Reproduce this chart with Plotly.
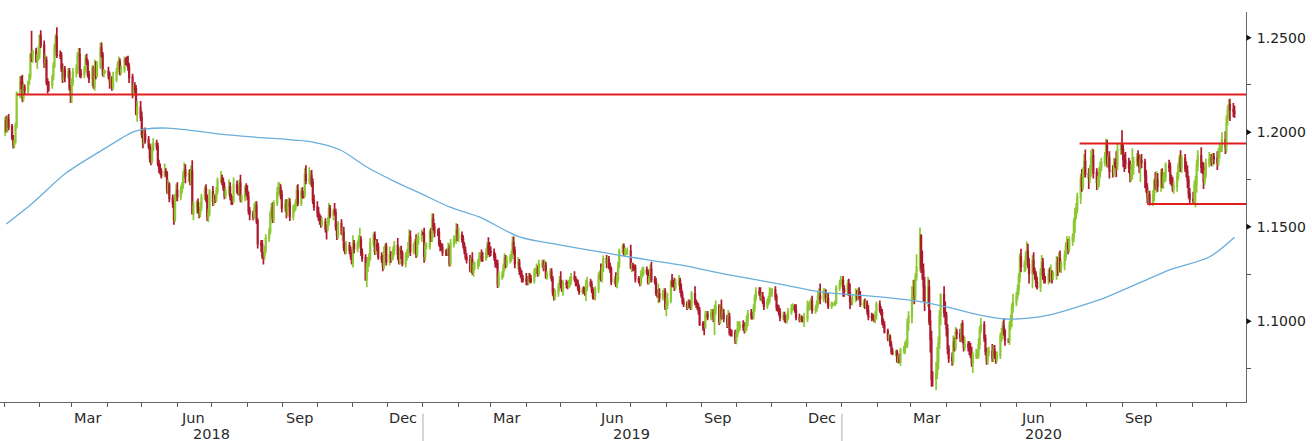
import pandas as pd
import plotly.graph_objects as go

# ---------------- data (prices in pips, 1 pip = 0.0001) ----------------
OPEN_FIRST = 12005

CLOSE_2018 = [
    12060,12015,12067,12030, 11967,11937,11950,12032,12200, 12263,12262,12180,12238,12222, 12262,12298,12408,12396,12427, 12380,12405,12414,
    12510,12460, 12370,12380,12265,12250,12250, 12290,12350,12450,12505,12408, 12405,12338,12285,12330,12295, 12320,12235,12195,
    12265,12315, 12335,12405,12410,12310,12305, 12335,12390,12370,12305,12285, 12335,12240,12340,12300,12350, 12445,12410,12310,12320,12322,
    12300,12270,12275,12235,12280, 12320,12355,12370,12320,12330, 12380,12375,12370,12345,12290, 12210,12235,12230,12100,12130, 12080,
    11990,11950,11990,11960, 11925,11865,11850,11915,11940, 11925,11835,11810,11795,11770, 11790,11780,11695,11720,11650, 11625,11540,11665,11690,
    11660, 11695,11720,11775,11800,11770, 11780,11745,11795,11570,11610, 11625,11590,11570,11605,11655, 11700,11650,11555,11570,11685,
    11635,11655,11650,11690,11745, 11750,11740,11710,11665,11685, 11710,11660,11640,11640,11720, 11690,11685,11730,11645,11655, 11705,11690,
    11660,11585,11565, 11555,11600,11610,11530,11410, 11405,11345,11345,11375,11440, 11475,11570,11600,11540,11625, 11680,11700,11705,11670,11600,
    11620,11585,11625,11625,11555, 11595,11600,11625,11690,11625, 11685,11670,11670,11775,11745, 11750,11770,11735,11640,11605,
    11575,11545,11535,11515,11525, 11490,11490,11525,11595,11560, 11580,11575,11500,11455,11515, 11465,11470,11390,11375,11400, 11375,11345,11310,
    11410,11385, 11405,11430,11430,11365,11335, 11220,11290,11310,11330,11415, 11455,11370,11405,11395,11340, 11330,11290,11370,11395,11315,
    11350,11340,11345,11375,11400, 11355,11320,11370,11360,11305, 11345,11360,11380,11445,11370, 11405,11420,11355,11430,11440, 11465,
]
CLOSE_2019 = [
    11460,11345,11395,11395, 11470,11440,11540,11500,11470, 11470,11410,11395,11390,11365, 11365,11365,11385,11305,11410, 11430,11430,11480,11445,
    11455, 11435,11405,11375,11340,11325, 11275,11325,11260,11295,11295, 11310,11340,11340,11335,11335, 11360,11400,11370,11370,
    11365, 11340,11305,11305,11195,11235, 11245,11285,11330,11305,11325, 11335,11350,11415,11375,11305, 11310,11265,11250,11225,11220,
    11215,11205,11235,11225,11215, 11260,11265,11275,11255,11300, 11305,11285,11295,11235,11245, 11260,11225,11155,11130,11150, 11180,11215,
    11195,11170,11200, 11195,11190,11195,11215,11235, 11225,11205,11200,11175,11155, 11165,11160,11150,11180,11205, 11195,11165,11130,11130,11170,
    11240,11250,11225,11275,11330, 11310,11325,11290,11275,11210, 11220,11195,11225,11295,11370, 11395,11365,11370,11370,11370,
    11285,11290,11285,11285,11225, 11215,11205,11250,11255,11270, 11260,11210,11225,11275,11220, 11210,11150,11140,11145,11125, 11145,11155,11075,
    11085,11110, 11205,11200,11200,11180,11200, 11215,11170,11140,11105,11090, 11080,11095,11085,11080,11145, 11100,11090,11075,11055,10985,
    10970,10970,11035,11035,11025, 11045,11045,11010,11060,11075, 11000,11070,11030,11040,11015, 10990,11020,10940,10940,10940, 10900,
    10930,10960,10970,10980, 10970,10955,10970,11005,11040, 11030,11030,11070,11125,11155, 11150,11125,11130,11105,11080, 11100,11115,11150,11150,
    11165, 11130,11075,11065,11050,11020, 11030,11010,11005,11020,11050, 11070,11075,11075,11060,11020, 11010,11015,11010,11010,11015,
    11080,11080,11080,11105,11060, 11065,11090,11130,11130,11120, 11145,11150,11110,11120,11080, 11090,11090,11090,11100,11175, 11200,11215,
]
CLOSE_2020 = [
    11215,11170,11160, 11195,11150,11105,11105,11120, 11135,11130,11150,11135,11090, 11095,11085,11090,11055,11025, 11020,11020,11010,11030,11090,
    11060,11045,11000,10980,10945, 10910,10915,10875,10840,10830, 10835,10790,10805,10785,10845, 10850,10880,10880,10995,11025,
    11135,11175,11135,11235,11285, 11450,11285,11270,11185,11105, 11180,11000,10905,10695,10695, 10725,10785,10885,11030,11140, 11045,11030,
    10960,10855,10805, 10795,10890,10865,10940,10935, 10915,10985,10905,10865,10875, 10865,10855,10825,10780,10820, 10825,10825,10875,10955,
    10980, 10910,10840,10795,10835,10840, 10805,10850,10815,10805,10820, 10920,10925,10975,10945,10900, 10900,10980,11005,11075,11100,
    11135,11170,11235,11340,11290, 11295,11340,11370,11300,11255, 11320,11265,11245,11205,11180, 11260,11310,11250,11220,11220, 11245,11235,
    11250,11240,11245, 11310,11275,11330,11285,11300, 11345,11400,11410,11385,11430, 11445,11525,11570,11595,11655, 11755,11715,11790,11845,11780,
    11760,11800,11865,11875,11785, 11735,11740,11785,11815,11840, 11870,11930,11835,11860,11795, 11790,11835,11830,11820,11905, 11935,
    11910,11855,11850,11835, 11815,11780,11800,11815,11845, 11865,11845,11815,11850,11840, 11770,11705,11660,11670,11630, 11665,11740,11720,
    11745,11715, 11785,11735,11760,11765,11825, 11815,11745,11745,11705,11715, 11765,11820,11860,11815,11860, 11810,11795,11745,11675,11645,
    11640,11715,11720,11825,11875, 11815,11810,11740,11775,11835, 11855,11860,11850,11870,11860, 11840,11895,11915,11915,11960, 11925,
    12070,12115,12145,12120,12110,12100,
]

# upper / lower wick lengths in pips (beyond the candle body)
WICK_UP_2018 = [
    21,27,22,29, 13,18,15,20,15, 33,34,42,16,15, 10,14,12,129,10, 20,10,44,
    8,30, 25,35,20,20,20, 15,20,20,15,50, 25,20,25,15,20, 20,20,15,
    20,25, 25,20,35,35,25, 15,20,25,15,20, 20,15,45,35,25, 30,30,15,15,5,
    25,20,25,20,40, 20,20,30,20,20, 20,15,25,35,20, 20,25,30,20,35, 35,
    30,30,30,35, 20,15,20,25,30, 20,20,20,25,15, 45,20,15,30,15, 20,15,10,35,
    45, 20,15,20,40,30, 20,25,30,57,25, 15,25,15,25,20, 15,25,20,25,15,
    30,20,15,20,15, 45,25,20,25,20, 40,25,15,20,40, 25,25,20,45,20, 15,25,
    30,25,20, 20,25,25,25,15, 20,25,20,25,20, 20,15,25,30,15, 30,35,30,20,25,
    25,25,20,30,25, 20,20,20,30,35, 20,25,20,35,50, 65,25,30,20,30,
    30,30,25,25,25, 20,20,25,30,20, 15,45,20,20,15, 25,25,30,25,25, 20,20,20,
    45,20, 20,25,65,20,20, 20,20,30,30,25, 15,20,25,30,20, 25,20,25,15,20,
    45,20,20,20,25, 40,30,25,30,15, 20,20,40,40,35, 10,15,40,20,30, 20,
]
WICK_DN_2018 = [
    25,15,18,20, 10,23,20,10,12, 20,35,22,18,22, 18,12,20,25,28, 12,45,25,
    25,15, 30,30,15,45,35, 20,15,10,30,15, 18,20,25,15,30, 12,15,40,
    40,20, 25,25,15,20,20, 20,20,15,15,25, 40,10,20,20,10, 15,15,15,20,10,
    20,40,30,15,10, 15,15,20,20,15, 15,20,20,20,30, 30,20,20,10,45, 20,
    20,35,15,20, 15,25,25,15,15, 20,15,25,20,15, 10,15,20,25,20, 25,30,15,30,
    25, 20,20,20,20,40, 35,25,25,5,35, 40,20,25,20,20, 15,20,25,30,15,
    25,20,25,20,20, 15,20,20,20,15, 20,20,25,25,15, 15,20,20,15,20, 20,25,
    20,20,30, 20,15,20,15,25, 40,15,44,20,15, 20,15,20,20,20, 15,20,25,25,25,
    20,40,30,20,25, 20,20,15,20,15, 15,20,20,15,20, 20,30,25,20,20,
    25,15,25,20,15, 20,58,15,20,15, 25,15,20,25,20, 10,40,20,20,20, 20,20,10,
    25,25, 20,20,30,20,20, 5,40,30,20,10, 20,20,20,25,15, 20,25,15,20,20,
    20,30,20,20,25, 30,20,20,30,15, 20,25,25,20,25, 15,20,20,15,25, 20,
]
WICK_UP_2019 = [
    10,35,20,20, 15,25,30,30,20, 20,25,20,20,20, 15,20,30,20,25, 25,20,40,35,
    40, 20,20,15,20,20, 25,15,40,20,20, 20,25,25,40,30, 25,20,45,50,
    25, 20,20,20,20,30, 20,20,30,20,20, 20,25,33,33,20, 30,20,20,20,20,
    35,25,20,20,20, 20,20,30,20,25, 20,20,30,20,20, 20,20,15,20,20, 20,25,
    50,20,20, 20,15,25,20,20, 30,15,20,20,20, 15,20,20,40,30, 20,20,15,20,15,
    20,20,55,15,18, 20,20,20,20,15, 20,40,20,20,15, 17,17,20,10,20,
    35,20,20,15,15, 15,15,20,30,20, 20,15,15,25,40, 20,20,20,55,30, 20,20,20,
    40,40, 15,45,20,30,25, 30,15,30,20,20, 15,20,20,25,15, 40,15,15,20,20,
    15,30,20,20,20, 20,20,20,27,35, 15,20,45,30,25, 20,40,25,20,15, 15,
    20,40,30,20, 25,25,20,25,20, 25,20,20,15,25, 25,30,20,25,25, 20,20,30,25,
    10, 20,15,15,20,20, 20,20,20,20,20, 20,20,15,15,30, 20,15,15,15,30,
    30,20,30,20,30, 20,20,25,45,70, 30,25,20,25,30, 15,10,5,10,15, 20,24,
]
WICK_DN_2019 = [
    5,35,25,15, 15,20,20,20,25, 20,15,25,15,20, 20,20,20,15,15, 20,15,20,20,
    25, 20,20,20,15,20, 15,20,15,25,25, 20,20,20,20,20, 15,25,20,30,
    20, 20,20,25,19,15, 15,15,20,25,20, 20,20,20,20,25, 30,20,20,20,15,
    25,15,15,20,15, 15,25,15,20,15, 20,20,15,10,15, 20,15,20,20,19, 20,20,
    20,15,35, 20,20,15,15,20, 15,20,15,15,15, 15,15,15,43,20, 15,15,15,15,20,
    20,20,15,20,15, 30,20,15,20,20, 15,14,20,20,15, 15,20,25,20,20,
    10,25,20,15,20, 15,20,15,20,15, 15,15,15,20,15, 15,15,15,45,25, 15,15,15,
    48,20, 15,20,20,20,15, 15,20,15,15,15, 20,15,15,20,20, 15,20,15,20,10,
    20,44,10,20,20, 20,20,15,83,25, 20,15,20,20,20, 25,20,15,20,20, 20,
    21,15,20,20, 20,20,15,20,30, 20,20,20,20,20, 15,15,20,15,20, 15,15,20,20,
    20, 20,20,15,20,20, 15,15,16,16,15, 15,15,15,15,15, 15,15,15,15,40,
    20,25,20,20,20, 20,15,20,25,30, 20,20,15,15,15, 15,10,5,10,10, 15,20,
]
WICK_UP_2020 = [
    10,25,20, 25,30,50,20,20, 40,30,25,30,25, 20,25,20,20,30, 20,20,15,25,15,
    20,20,20,15,20, 15,20,15,20,20, 15,15,15,25,15, 20,15,25,20,28,
    50,45,45,20,70, 46,10,90,35,50, 56,40,60,45,40, 60,80,35,30,7, 45,60,
    20,25,20, 30,35,25,30,20, 25,5,20,20,40, 20,30,30,40,20, 30,25,35,20,
    38, 20,20,20,25,25, 40,25,25,25,20, 20,40,25,40,15, 10,20,30,20,45,
    20,25,20,20,44, 25,30,52,40,35, 30,45,20,20,30, 20,40,25,30,20, 30,40,
    50,20,20, 35,30,35,45,20, 30,20,40,25,20, 20,20,30,30,25, 25,50,25,40,64,
    30,25,40,40,35, 25,30,30,30,25, 25,36,30,20,40, 30,30,25,70,40, 10,
    76,25,30,45, 30,35,30,100,25, 25,40,37,25,35, 20,30,25,25,20, 30,15,50,
    50,40, 20,25,30,25,15, 30,25,30,20,25, 25,20,20,45,20, 25,35,30,25,30,
    40,30,50,30,30, 45,30,30,25,25, 40,25,25,20,20, 40,20,25,15,40, 45,
    20,25,30,32,35,30,
]
WICK_DN_2020 = [
    15,40,30, 25,15,40,20,20, 20,20,20,20,15, 20,20,20,20,20, 20,15,15,20,20,
    15,15,20,15,10, 15,15,10,15,10, 15,10,15,7,20, 15,25,20,20,45,
    35,30,45,25,20, 20,30,50,80,50, 30,20,70,41,40, 59,30,40,30,50, 25,50,
    40,30,25, 30,25,25,20,30, 25,20,20,25,20, 25,35,20,20,53, 20,25,20,25,
    20, 20,20,25,25,20, 20,20,15,30,20, 20,30,20,20,30, 15,25,25,35,30,
    20,20,30,30,30, 30,30,20,20,55, 80,15,25,25,12, 25,20,30,20,20, 25,30,
    30,40,20, 25,35,20,25,30, 30,25,15,30,20, 30,25,60,30,25, 35,30,20,30,20,
    60,30,35,30,30, 40,35,30,25,20, 20,20,20,25,40, 30,25,20,58,20, 25,
    25,40,60,30, 30,45,40,50,40, 25,25,30,78,30, 65,25,35,30,18, 20,30,25,
    40,30, 30,30,35,25,25, 25,20,30,20,30, 30,20,30,25,30, 20,35,40,25,25,
    20,20,112,40,30, 30,30,40,20,20, 20,30,30,30,30, 40,20,35,20,20, 40,
    35,35,45,60,30,25,
]

# 200-day moving average
MA_DATES = ["2018-01-03", "2018-01-26", "2018-02-24", "2018-03-25", "2018-04-23", "2018-05-02",
            "2018-05-23", "2018-06-20", "2018-07-08", "2018-08-06", "2018-09-27", "2018-10-21",
            "2018-11-13", "2018-12-08", "2018-12-29", "2019-01-24", "2019-02-19", "2019-03-26",
            "2019-04-30", "2019-06-04", "2019-06-30", "2019-08-13", "2019-09-25", "2019-11-08",
            "2019-12-13", "2020-02-03", "2020-03-11", "2020-04-01", "2020-04-30", "2020-05-23",
            "2020-06-12", "2020-06-29", "2020-08-12", "2020-09-16", "2020-10-12", "2020-11-16",
            "2020-12-08"]
MA_VALUES = [1.1515, 1.1626, 1.1784, 1.1896, 1.2001, 1.2015,
             1.2022, 1.2005, 1.1990, 1.1975, 1.1948, 1.1906,
             1.1816, 1.1737, 1.1679, 1.1605, 1.1552, 1.1446,
             1.1404, 1.1367, 1.1340, 1.1298, 1.1245, 1.1197,
             1.1155, 1.1129, 1.1103, 1.1076, 1.1033, 1.1012,
             1.1017, 1.1033, 1.1113, 1.1203, 1.1271, 1.1340,
             1.1445]

# horizontal support / resistance levels
LEVELS = [1.2200, 1.1940, 1.1620]
LEVEL_START = ["2018-01-12", "2020-07-26", "2020-09-23"]

Y_TICKS = [1.10, 1.15, 1.20, 1.25]
Y_TICKTEXT = ["1.1000", "1.1500", "1.2000", "1.2500"]
Y_MINOR = [1.075, 1.125, 1.175, 1.225]
MONTH_LABELS = ["Mar", "Jun", "Sep", "Dec", "Mar", "Jun", "Sep", "Dec", "Mar", "Jun", "Sep"]
MONTH_LABEL_DATES = ["2018-03-15", "2018-06-15", "2018-09-15", "2018-12-15",
                     "2019-03-15", "2019-06-15", "2019-09-15", "2019-12-15",
                     "2020-03-15", "2020-06-15", "2020-09-15"]
YEAR_LABELS = ["2018", "2019", "2020"]
YEAR_LABEL_DATES = ["2018-07-01", "2019-07-02", "2020-06-25"]
YEAR_BOUNDARIES = ["2019-01-01", "2020-01-01"]

X_START = "2017-12-28 12:00"
X_END = "2020-12-18"

# ---------------- build OHLC ----------------
close_p = CLOSE_2018 + CLOSE_2019 + CLOSE_2020
wu = WICK_UP_2018 + WICK_UP_2019 + WICK_UP_2020
wd = WICK_DN_2018 + WICK_DN_2019 + WICK_DN_2020
n = min(len(close_p), len(wu), len(wd))
close_p, wu, wd = close_p[:n], wu[:n], wd[:n]
open_p = [OPEN_FIRST] + close_p[:-1]
high_p = [max(o, c) + u for o, c, u in zip(open_p, close_p, wu)]
low_p = [min(o, c) - d for o, c, d in zip(open_p, close_p, wd)]
dates = pd.bdate_range("2018-01-02", periods=n)

to_px = lambda arr: [v / 10000 for v in arr]

UP_COLOR = "#8cc832"
DN_COLOR = "#ad1a2e"
FONT = "DejaVu Sans, sans-serif"

fig = go.Figure()
fig.add_trace(go.Candlestick(
    x=dates, open=to_px(open_p), high=to_px(high_p), low=to_px(low_p), close=to_px(close_p),
    increasing=dict(line=dict(color=UP_COLOR, width=1.7), fillcolor=UP_COLOR),
    decreasing=dict(line=dict(color=DN_COLOR, width=1.7), fillcolor=DN_COLOR),
    whiskerwidth=0, hoverinfo="skip", showlegend=False,
))
fig.add_trace(go.Scatter(
    x=MA_DATES, y=MA_VALUES, mode="lines",
    line=dict(color="#6aaedb", width=1.3, shape="spline", smoothing=0.8),
    hoverinfo="skip", showlegend=False,
))

shapes = []
for lvl, start in zip(LEVELS, LEVEL_START):
    shapes.append(dict(type="line", xref="x", yref="y", x0=start, x1=X_END, y0=lvl, y1=lvl,
                       line=dict(color="#e01e1e", width=2), layer="above"))
# small black triangles marking the major y ticks
for t in Y_TICKS:
    shapes.append(dict(type="path", xref="paper", yref="y",
                       path=f"M 1.0004,{t + 0.0016} L 1.0045,{t} L 1.0004,{t - 0.0016} Z",
                       fillcolor="#111", line=dict(width=0), layer="above"))
for b in YEAR_BOUNDARIES:
    shapes.append(dict(type="line", xref="x", yref="paper", x0=b, x1=b, y0=-0.03, y1=-0.105,
                       line=dict(color="#aaaaaa", width=1)))

annotations = []
for lab, d in zip(MONTH_LABELS, MONTH_LABEL_DATES):
    annotations.append(dict(x=d, y=-0.041, xref="x", yref="paper", text=lab, showarrow=False,
                            font=dict(family=FONT, size=14.5, color="#2a2a2a"), yanchor="middle"))
for lab, d in zip(YEAR_LABELS, YEAR_LABEL_DATES):
    annotations.append(dict(x=d, y=-0.081, xref="x", yref="paper", text=lab, showarrow=False,
                            font=dict(family=FONT, size=14.5, color="#2a2a2a"), yanchor="middle"))

month_ticks = pd.date_range("2018-01-01", "2020-12-01", freq="MS")

fig.update_layout(
    width=1312, height=441,
    margin=dict(l=0, r=66, t=12, b=39),
    paper_bgcolor="white", plot_bgcolor="white",
    shapes=shapes, annotations=annotations,
    xaxis=dict(type="date", range=[X_START, X_END], rangeslider=dict(visible=False),
               tickvals=list(month_ticks), showticklabels=False,
               ticks="outside", ticklen=4, tickcolor="#555", tickwidth=1,
               showline=True, linecolor="#666", linewidth=1,
               showgrid=False, zeroline=False),
    yaxis=dict(side="right", range=[1.0573, 1.2636],
               tickvals=Y_TICKS, ticktext=Y_TICKTEXT, ticks="outside", ticklen=7,
               tickcolor="rgba(0,0,0,0)",
               tickfont=dict(family=FONT, size=14, color="#222"),
               minor=dict(tickvals=Y_MINOR, ticks="outside", ticklen=4, tickcolor="#555"),
               showline=True, linecolor="#666", linewidth=1,
               showgrid=False, zeroline=False),
)

fig.write_html("out.html", config={"displayModeBar": False},
               post_script="document.body.style.margin='0px';document.body.style.overflow='hidden';")
